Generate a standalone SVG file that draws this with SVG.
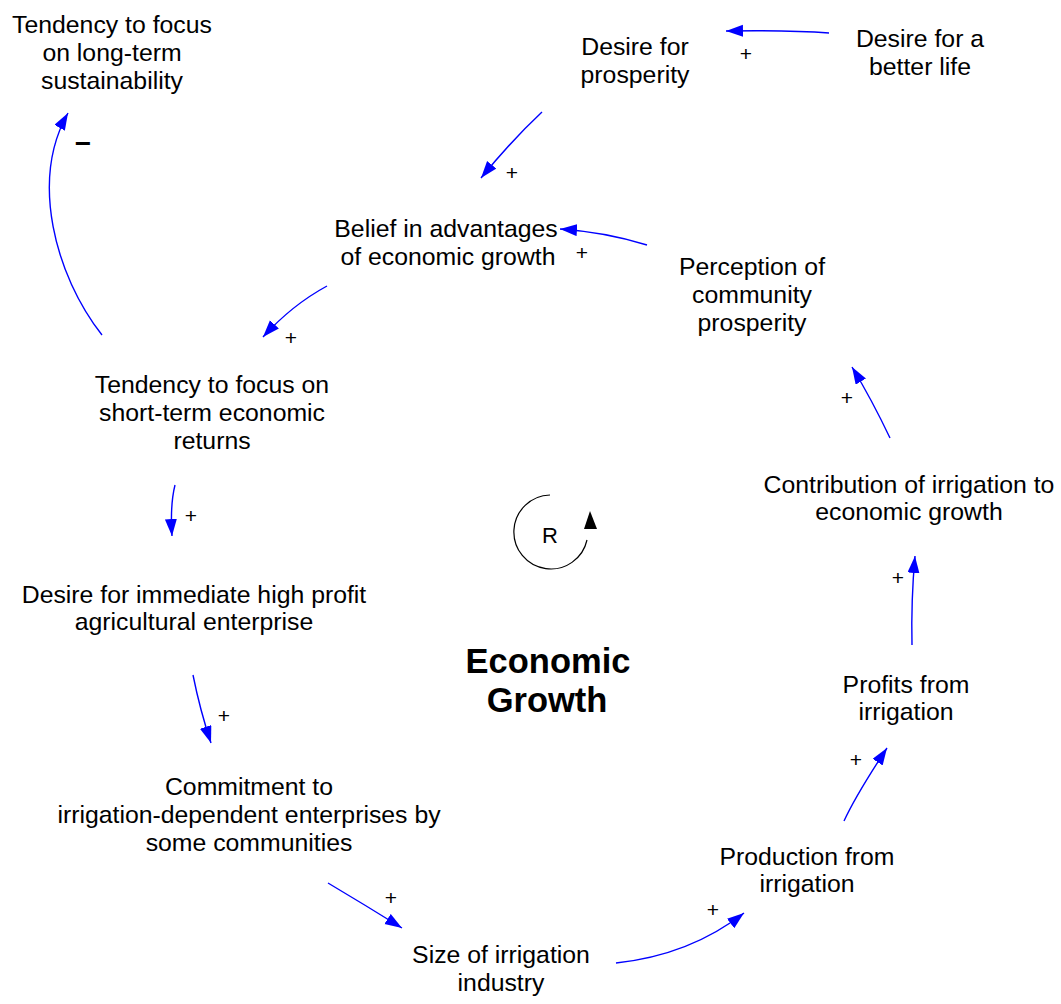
<svg xmlns="http://www.w3.org/2000/svg" width="1061" height="1004" viewBox="0 0 1061 1004">
<style>
.t{font-family:"Liberation Sans",Arial,sans-serif;font-size:24.8px;fill:#000;text-anchor:middle}
.p{font-family:"Liberation Sans",Arial,sans-serif;font-size:21px;fill:#000;text-anchor:middle}
.c{fill:none;stroke:#0000ff;stroke-width:1.4;marker-end:url(#ah)}
</style>
<defs>
<marker id="ah" markerUnits="userSpaceOnUse" markerWidth="20" markerHeight="14" refX="17" refY="6" orient="auto">
<path d="M0,0 L17,6 L0,12 Z" fill="#0000ff"/>
</marker>
</defs>
<rect width="1061" height="1004" fill="#fff"/>
<g id="connectors">
<path class="c" d="M829,33 Q790,30 726,31"/>
<path class="c" d="M542,112 Q512,140 481,178"/>
<path class="c" d="M647,245 Q605,232 560,229"/>
<path class="c" d="M327,286 Q292,305 263,337"/>
<path class="c" d="M102,335 C55,275 30,180 68,113"/>
<path class="c" d="M175,485 Q170,505 172,536"/>
<path class="c" d="M193,675 Q200,710 211,743"/>
<path class="c" d="M328,883 Q365,905 402,928"/>
<path class="c" d="M616,963 Q690,955 744,913"/>
<path class="c" d="M844,821 Q856,795 887,748"/>
<path class="c" d="M912,645 Q911,600 915,556"/>
<path class="c" d="M890,438 Q872,400 852,367"/>
<text class="p" x="746" y="61">+</text>
<text class="p" x="512" y="180">+</text>
<text class="p" x="582" y="260">+</text>
<text class="p" x="291" y="345">+</text>
<text x="83" y="153" style="font-family:'Liberation Sans',Arial,sans-serif;font-size:28px;font-weight:bold;text-anchor:middle">−</text>
<text class="p" x="191" y="523">+</text>
<text class="p" x="224" y="723">+</text>
<text class="p" x="391" y="905">+</text>
<text class="p" x="713" y="917">+</text>
<text class="p" x="856" y="767">+</text>
<text class="p" x="898" y="585">+</text>
<text class="p" x="847" y="405">+</text>
</g>
<g id="loop-R">
<path d="M550,495 A37,37 0 1 0 587,540" fill="none" stroke="#000" stroke-width="1.2"/>
<path d="M590,511 L584,529 L597,529 Z" fill="#000"/>
<text x="550" y="543" style="font-family:'Liberation Sans',Arial,sans-serif;font-size:22px;text-anchor:middle">R</text>
</g>
<g id="title">
<text x="548" y="673" style="font-family:'Liberation Sans',Arial,sans-serif;font-size:34.5px;font-weight:bold;text-anchor:middle">Economic</text>
<text x="547" y="712" style="font-family:'Liberation Sans',Arial,sans-serif;font-size:34.5px;font-weight:bold;text-anchor:middle">Growth</text>
</g>
<g id="n-long-term"><text class="t" x="112" y="33">Tendency to focus</text><text class="t" x="112" y="61">on long-term</text><text class="t" x="112" y="89">sustainability</text></g>
<g id="n-desire-prosperity"><text class="t" x="635" y="55">Desire for</text><text class="t" x="635" y="83">prosperity</text></g>
<g id="n-better-life"><text class="t" x="920" y="47">Desire for a</text><text class="t" x="920" y="75">better life</text></g>
<g id="n-belief"><text class="t" x="446" y="237">Belief in advantages</text><text class="t" x="448" y="265">of economic growth</text></g>
<g id="n-perception"><text class="t" x="752" y="275">Perception of</text><text class="t" x="752" y="303">community</text><text class="t" x="752" y="331">prosperity</text></g>
<g id="n-short-term"><text class="t" x="212" y="393">Tendency to focus on</text><text class="t" x="212" y="421">short-term economic</text><text class="t" x="212" y="449">returns</text></g>
<g id="n-immediate"><text class="t" x="194" y="603">Desire for immediate high profit</text><text class="t" x="194" y="630">agricultural enterprise</text></g>
<g id="n-commitment"><text class="t" x="249" y="795">Commitment to</text><text class="t" x="249" y="823">irrigation-dependent enterprises by</text><text class="t" x="249" y="851">some communities</text></g>
<g id="n-size"><text class="t" x="501" y="963">Size of irrigation</text><text class="t" x="501" y="991">industry</text></g>
<g id="n-production"><text class="t" x="807" y="865">Production from</text><text class="t" x="807" y="892">irrigation</text></g>
<g id="n-profits"><text class="t" x="906" y="693">Profits from</text><text class="t" x="906" y="720">irrigation</text></g>
<g id="n-contribution"><text class="t" x="909" y="493">Contribution of irrigation to</text><text class="t" x="909" y="520">economic growth</text></g>
</svg>
